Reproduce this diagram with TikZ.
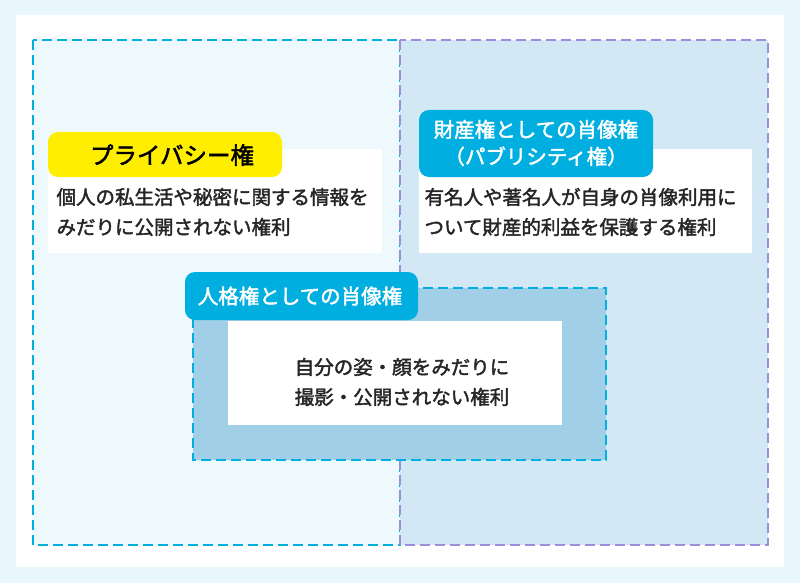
\documentclass[tikz,border=0pt]{standalone}
\usepackage{fontspec}
\setmainfont{Noto Sans CJK JP}[BoldFont={Noto Sans CJK JP}, BoldFeatures={FakeBold=2}]
\definecolor{pagebg}{HTML}{EAF7FC}
\definecolor{cyanline}{HTML}{00AEDF}
\definecolor{purpleline}{HTML}{9B8EDB}
\definecolor{leftfill}{HTML}{EEF9FD}
\definecolor{rightfill}{HTML}{D3E8F5}
\definecolor{midfill}{HTML}{A2CFE8}
\definecolor{tagyellow}{HTML}{FFEE00}
\tikzset{
  area/.style={line width=2pt, dash pattern=on 10pt off 5pt},
  tag/.style={rounded corners=10pt, inner sep=0pt},
  body/.style={anchor=west, align=left, font=\bfseries\fontsize{19.5}{30}\selectfont, text=black!85},
  title/.style={align=center, font=\bfseries\fontsize{20.5}{27}\selectfont}
}
\begin{document}
\begin{tikzpicture}[x=1pt,y=-1pt]
    \useasboundingbox (0,0) rectangle (800,583);
    \fill[pagebg] (0,0) rectangle (800,583);
    \fill[white] (16,15) rectangle (784,567);

    % the two halves
    \filldraw[area, fill=leftfill, draw=cyanline]    (33,40)  rectangle (400,545);
    \filldraw[area, fill=rightfill, draw=purpleline] (400,40) rectangle (768,545);

    % privacy
    \fill[white] (48,149) rectangle (382,253);
    \fill[tag, tagyellow] (48,132) rectangle (282,177);
    \node[title, font=\bfseries\fontsize{23.5}{27}\selectfont] (privacy) at (172,155) {プライバシー権};
    \node[body] (privacytext) at (53,212) {個人の私生活や秘密に関する情報を\\みだりに公開されない権利};

    % publicity
    \fill[white] (419,149) rectangle (752,253);
    \fill[tag, cyanline] (419,110) rectangle (653,177);
    \node[title, text=white] (publicity) at (536,143) {財産権としての肖像権\\（パブリシティ権）};
    \node[body] (publicitytext) at (421,212) {有名人や著名人が自身の肖像利用に\\ついて財産的利益を保護する権利};

    % portrait (personal)
    \filldraw[area, fill=midfill, draw=cyanline] (193,288) rectangle (606,460);
    \fill[white] (228,321) rectangle (562,425);
    \fill[tag, cyanline] (185,272) rectangle (418,320);
    \node[title, text=white] (portrait) at (300,296) {人格権としての肖像権};
    \node[body, anchor=center, align=center] (portraittext) at (402,382) {自分の姿・顔をみだりに\\撮影・公開されない権利};
\end{tikzpicture}
\end{document}
